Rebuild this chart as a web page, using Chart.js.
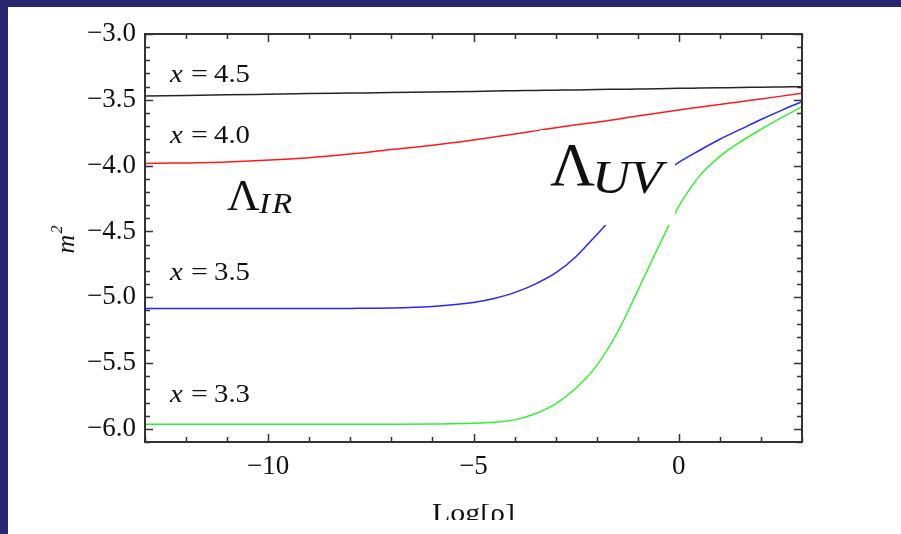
<!DOCTYPE html>
<html>
<head>
<meta charset="utf-8">
<script src="https://cdn.jsdelivr.net/npm/chart.js@4/dist/chart.umd.min.js"></script>
<style>
  html, body { margin: 0; padding: 0; background: #28266f; }
  body { width: 901px; height: 534px; overflow: hidden; position: relative; }
  #panel { position: absolute; left: 8px; top: 7px; width: 893px; height: 527px; background: #fff; }
  canvas { display: block; }
</style>
</head>
<body>
<div id="panel"><canvas id="graficoMasa" width="893" height="527"></canvas></div>
<script>
// Log[rho] sample points shared by all four curves
const logRho = [-13, -11, -9, -8, -7, -6, -5, -4.5, -4, -3.5, -3, -2.5, -2, -1.5, -1, -0.5, 0, 0.5, 1, 1.5, 2, 2.5, 3];

// m^2 for each value of x
const m2x45 = [-3.471, -3.462, -3.453, -3.449, -3.445, -3.440, -3.436, -3.433, -3.431, -3.429, -3.427, -3.425,
               -3.422, -3.420, -3.418, -3.416, -3.413, -3.411, -3.409, -3.407, -3.404, -3.402, -3.400];
const m2x40 = [-3.984, -3.972, -3.940, -3.912, -3.878, -3.845, -3.805, -3.783, -3.760, -3.736, -3.712, -3.690,
               -3.670, -3.647, -3.623, -3.600, -3.577, -3.556, -3.535, -3.514, -3.493, -3.472, -3.451];
const m2x35 = [-5.086, -5.086, -5.086, -5.085, -5.082, -5.070, -5.040, -5.010, -4.965, -4.900, -4.815, -4.690,
               -4.525, -4.355, -4.205, -4.080, -3.975, -3.885, -3.800, -3.725, -3.650, -3.580, -3.514];
const m2x33 = [-5.966, -5.966, -5.966, -5.966, -5.965, -5.963, -5.958, -5.950, -5.932, -5.885, -5.810, -5.690,
               -5.520, -5.270, -4.950, -4.620, -4.310, -4.080, -3.930, -3.820, -3.725, -3.636, -3.552];

const xTicks = [-10, -5, 0];
const yTicks = [-6.0, -5.5, -5.0, -4.5, -4.0, -3.5, -3.0];

const serif = "'Liberation Serif', 'DejaVu Serif', serif";
const minus = v => (v < 0 ? '\u2212' : '') + Math.abs(v);

function serie(valores, color) {
  return {
    data: logRho.map((x, i) => ({ x: x, y: valores[i] })),
    borderColor: color,
    borderWidth: 1.5,
    pointRadius: 0,
    cubicInterpolationMode: 'monotone',
    fill: false
  };
}

function texto(ctx, s, x, y, font, sx) {
  ctx.save();
  ctx.font = font;
  ctx.translate(x, y);
  ctx.scale(sx || 1, 1);
  ctx.fillText(s, 0, 0);
  ctx.restore();
}

// labels inside the frame, drawn over the curves
const etiquetas = {
  id: 'etiquetas',
  afterDatasetsDraw(chart) {
    const ctx = chart.ctx;
    ctx.save();
    ctx.fillStyle = '#111';
    ctx.textBaseline = 'alphabetic';
    ctx.textAlign = 'left';

    const filas = [['4.5', 75], ['4.0', 136], ['3.5', 273], ['3.3', 395]];
    filas.forEach(([n, y]) => {
      texto(ctx, 'x', 162, y, 'italic 25px ' + serif, 1.15);
      texto(ctx, '=', 183, y, '25px ' + serif, 1.2);
      texto(ctx, n, 206, y, '25px ' + serif, 1.15);
    });

    // Lambda_IR
    texto(ctx, '\u039B', 219, 203, '45px ' + serif, 1.0);
    texto(ctx, 'I', 251, 206, 'italic 30px ' + serif, 1.1);
    texto(ctx, 'R', 264, 206, 'italic 30px ' + serif, 1.1);

    // Lambda_UV sits on a white box that hides the curves behind it
    ctx.fillStyle = '#fff';
    ctx.fillRect(532, 123, 135, 95);
    ctx.fillStyle = '#111';
    texto(ctx, '\u039B', 542, 178, '62px ' + serif, 1.0);
    texto(ctx, 'U', 584, 186, 'italic 46px ' + serif, 1.15);
    texto(ctx, 'V', 622, 186, 'italic 46px ' + serif, 1.15);
    ctx.restore();
  },
  afterDraw(chart) {
    const ctx = chart.ctx;
    const { left, right, top, bottom } = chart.chartArea;
    const sx = chart.scales.x, sy = chart.scales.y;
    ctx.save();
    ctx.strokeStyle = '#333';

    // inward ticks on all four sides
    ctx.lineWidth = 1.5;
    ctx.beginPath();
    for (let i = -61; i <= -30; i++) {
      const py = Math.round(sy.getPixelForValue(i / 10)) + 0.5;
      const len = i % 5 === 0 ? 8 : 5;
      ctx.moveTo(left, py); ctx.lineTo(left + len, py);
      ctx.moveTo(right, py); ctx.lineTo(right - len, py);
    }
    for (let v = -13; v <= 3; v++) {
      const px = Math.round(sx.getPixelForValue(v)) + 0.5;
      const len = v % 5 === 0 ? 8 : 5;
      ctx.moveTo(px, bottom); ctx.lineTo(px, bottom - len);
      ctx.moveTo(px, top); ctx.lineTo(px, top + len);
    }
    ctx.stroke();

    ctx.lineWidth = 2;
    ctx.strokeRect(left, top, right - left, bottom - top);

    // axis titles
    ctx.fillStyle = '#111';
    ctx.save();
    ctx.translate(66, 233);
    ctx.rotate(-Math.PI / 2);
    ctx.font = 'italic 26px ' + serif;
    const wm = ctx.measureText('m').width;
    ctx.fillText('m', -wm / 2 - 4, 0);
    ctx.font = 'italic 16px ' + serif;
    ctx.fillText('2', wm / 2 - 3, -12);
    ctx.restore();

    ctx.save();
    ctx.beginPath();
    ctx.rect(0, 0, chart.width, 513);
    ctx.clip();
    texto(ctx, 'Log[\u03C1]', 424, 514, '26px ' + serif, 1.15);
    ctx.restore();

    ctx.restore();
  }
};

const grafico = new Chart(document.getElementById('graficoMasa').getContext('2d'), {
  type: 'line',
  data: {
    datasets: [
      serie(m2x45, '#262626'),
      serie(m2x40, '#ff1a1a'),
      serie(m2x35, '#2626ff'),
      serie(m2x33, '#33ee33')
    ]
  },
  options: {
    responsive: false,
    animation: false,
    layout: { padding: { left: 0, top: 27, right: 99, bottom: 0 } },
    plugins: { legend: { display: false }, tooltip: { enabled: false } },
    scales: {
      x: {
        type: 'linear',
        min: -13,
        max: 3,
        afterBuildTicks: s => { s.ticks = xTicks.map(v => ({ value: v })); },
        afterFit: s => { s.height = 92; },
        ticks: {
          callback: v => minus(v),
          color: '#111',
          padding: 9,
          maxRotation: 0,
          font: { family: serif, size: 27 }
        },
        grid: { drawOnChartArea: false, drawTicks: false },
        border: { display: false }
      },
      y: {
        type: 'linear',
        min: -6.1,
        max: -3.0,
        afterBuildTicks: s => { s.ticks = yTicks.map(v => ({ value: v })); },
        afterFit: s => { s.width = 137; },
        ticks: {
          callback: v => (v < 0 ? '\u2212' : '') + Math.abs(v).toFixed(1),
          color: '#111',
          padding: 9,
          font: { family: serif, size: 27 }
        },
        grid: { drawOnChartArea: false, drawTicks: false },
        border: { display: false }
      }
    }
  },
  plugins: [etiquetas]
});
</script>
</body>
</html>
